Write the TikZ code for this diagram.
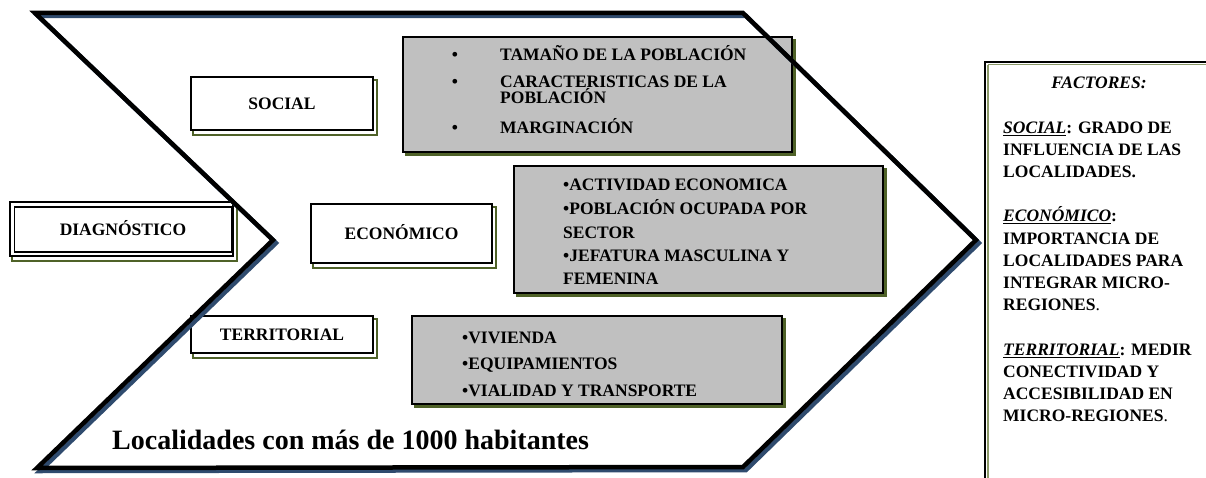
\documentclass[tikz,border=0pt]{standalone}
\usepackage{fontspec}
\setmainfont{Liberation Serif}
\usetikzlibrary{backgrounds}
\definecolor{shgreen}{HTML}{4F6228}
\definecolor{lightgreen}{HTML}{8C9A6A}
\definecolor{shblue}{HTML}{2F4B6E}
\definecolor{boxgray}{HTML}{C0C0C0}
\newcommand\fsz{\fontsize{17.5}{21}\selectfont\bfseries}
\begin{document}
\begin{tikzpicture}[x=1pt,y=-1pt,
  lab/.style={font=\fsz, inner sep=0pt, text height=11.6pt, text depth=0pt},
  whitebox/.style={draw=black, line width=2pt, fill=white, inner sep=0pt},
  graybox/.style={draw=black, line width=2pt, fill=boxgray, inner sep=0pt},
  greenline/.style={draw=shgreen, line width=2pt},
  chev/.style={line width=4.5pt, line join=miter, miter limit=20},
  ft/.style={lab, anchor=west}]
\useasboundingbox (0,0) rectangle (1206,478);
\clip (0,0) rectangle (1206,478);

% white label boxes
\node[whitebox, minimum width=223, minimum height=54] (diag) at (121,229) {};
\node[whitebox, minimum width=182, minimum height=53] (social) at (282,103.5) {};
\node[whitebox, minimum width=181, minimum height=59] (econ) at (401.5,233.5) {};
\node[whitebox, minimum width=182, minimum height=37] (terr) at (282,334.5) {};
\draw[line width=1.6pt] ([shift={(6,6)}]diag.north west) rectangle ([shift={(-2,-5)}]diag.south east);

% gray boxes
\node[graybox, minimum width=389, minimum height=115] (g1) at (597.5,94.5) {};
\node[graybox, minimum width=369, minimum height=127] (g2) at (698.5,229.5) {};
\node[graybox, minimum width=370, minimum height=88] (g3) at (597,360) {};

\begin{scope}[on background layer]
  \foreach \b in {diag,social,econ,terr}
    \draw[greenline] ([shift={(3,4)}]\b.north west) rectangle ([shift={(3,4)}]\b.south east);
  \foreach \b in {g1,g2,g3}
    \fill[shgreen] ([shift={(3,3)}]\b.north west) rectangle ([shift={(3,3)}]\b.south east);
\end{scope}

% labels
\node[lab] (tdiag) at (123,230) {DIAGNÓSTICO};
\node[lab] (tsocial) at (282,104) {SOCIAL};
\node[lab] (tecon) at (401.5,234) {ECONÓMICO};
\node[lab] (tterr) at (282,335) {TERRITORIAL};

% box 1 items
\node[lab] (b1) at (455,55) {•};
\node[lab] (b2) at (455,82) {•};
\node[lab] (b3) at (455,128) {•};
\node[ft] (s1) at (500,55) {TAMAÑO DE LA POBLACIÓN};
\node[ft] (s2) at (500,82) {CARACTERISTICAS DE LA};
\node[ft] (s2b) at (500,97.5) {POBLACIÓN};
\node[ft] (s3) at (500,128) {MARGINACIÓN};

% box 2 items
\node[ft] (e1) at (563,185) {•ACTIVIDAD ECONOMICA};
\node[ft] (e2) at (563,209) {•POBLACIÓN OCUPADA POR};
\node[ft] (e3) at (563,233) {SECTOR};
\node[ft] (e4) at (563,256) {•JEFATURA MASCULINA Y};
\node[ft] (e5) at (563,279) {FEMENINA};

% box 3 items
\node[ft] (t1) at (462,338) {•VIVIENDA};
\node[ft] (t2) at (462,364) {•EQUIPAMIENTOS};
\node[ft] (t3) at (462,391) {•VIALIDAD Y TRANSPORTE};

% bottom caption
\node[font=\fontsize{28}{32}\selectfont\bfseries, inner sep=0pt, anchor=base west] (loc) at (112,449) {Localidades con más de 1000 habitantes};

% factores box
\node[draw=black, line width=2.5pt, fill=white, inner sep=0pt, minimum width=230, minimum height=440] (fact) at (1100,282) {};
\draw[draw=lightgreen, line width=1.5pt] ([shift={(4,4)}]fact.north west) -- ([shift={(4,4)}]fact.north east);
\draw[draw=lightgreen, line width=1.5pt] ([shift={(4,4)}]fact.north west) -- ([shift={(4,0)}]fact.south west);

\node[lab] (f0) at (1099,83) {\textit{FACTORES:}};
\node[ft] (f1) at (1003,127.4) {\underline{\textit{SOCIAL}}: GRADO DE};
\node[ft] (f2) at (1003,149.6) {INFLUENCIA DE LAS};
\node[ft] (f3) at (1003,171.8) {LOCALIDADES.};
\node[ft] (f4) at (1003,216.2) {\underline{\textit{ECONÓMICO}}:};
\node[ft] (f5) at (1003,238.4) {IMPORTANCIA DE};
\node[ft] (f6) at (1003,260.6) {LOCALIDADES PARA};
\node[ft] (f7) at (1003,282.8) {INTEGRAR MICRO-};
\node[ft] (f8) at (1003,305) {REGIONES{\mdseries .}};
\node[ft] (f9) at (1003,349.4) {\underline{\textit{TERRITORIAL}}: MEDIR};
\node[ft] (f10) at (1003,371.6) {CONECTIVIDAD Y};
\node[ft] (f11) at (1003,393.8) {ACCESIBILIDAD EN};
\node[ft] (f12) at (1003,416) {MICRO-REGIONES{\mdseries .}};

% chevron
\coordinate (A) at (35,13);
\coordinate (B) at (743,13);
\coordinate (C) at (976,240);
\coordinate (D) at (743,467);
\coordinate (E) at (37,468);
\coordinate (F) at (273,240);
\draw[chev, shblue] ([shift={(3,3)}]A) -- ([shift={(3,3)}]B) -- ([shift={(3,3)}]C) -- ([shift={(3,3)}]D) -- ([shift={(3,3)}]E) -- ([shift={(3,3)}]F) -- cycle;
\draw[chev, black] (A) -- (B) -- (C) -- (D) -- (E) -- (F) -- cycle;
\end{tikzpicture}
\end{document}
